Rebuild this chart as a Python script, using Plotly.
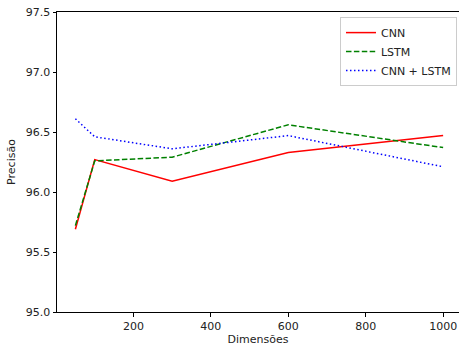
import plotly.graph_objects as go

# Accuracy by embedding dimension for each architecture
dimensoes = [50, 100, 300, 600, 1000]
cnn = [95.69, 96.27, 96.09, 96.33, 96.47]
lstm = [95.72, 96.26, 96.29, 96.56, 96.37]
cnn_lstm = [96.61, 96.46, 96.36, 96.47, 96.21]

series = [
    ("CNN", cnn, "red", "solid"),
    ("LSTM", lstm, "green", "5.5px,2.4px"),
    ("CNN + LSTM", cnn_lstm, "blue", "1.5px,2.5px"),
]

fig = go.Figure()
for name, vals, color, dash in series:
    fig.add_trace(go.Scatter(
        x=dimensoes, y=vals, name=name, mode="lines",
        line=dict(color=color, width=1.5, dash=dash),
    ))

font = dict(family="DejaVu Sans", size=11, color="#222222")
axis_common = dict(
    showgrid=False, zeroline=False, showline=True, linecolor="black",
    linewidth=1, ticks="outside", ticklen=3.5, tickwidth=1, tickcolor="black",
    tickfont=font,
)

fig.update_layout(
    width=459, height=351,
    margin=dict(l=57, r=0, t=12, b=39),
    paper_bgcolor="white", plot_bgcolor="white",
    font=font,
    showlegend=True,
    legend=dict(
        x=0.995, y=0.983, xanchor="right", yanchor="top",
        bgcolor="rgba(255,255,255,0.8)", bordercolor="#cccccc", borderwidth=1,
        font=dict(family="DejaVu Sans", size=11, color="#222222"),
        tracegroupgap=0, itemwidth=30,
    ),
    xaxis=dict(
        range=[2.5, 1041], tickvals=[200, 400, 600, 800, 1000],
        title=dict(text="Dimensões", font=font, standoff=2),
        mirror=True,
        **axis_common,
    ),
    yaxis=dict(
        range=[95.0, 97.5], tickvals=[95.0, 95.5, 96.0, 96.5, 97.0, 97.5],
        tickformat=".1f",
        title=dict(text="Precisão", font=font, standoff=7),
        mirror=False,
        **axis_common,
    ),
)

fig.write_html("out.html")
